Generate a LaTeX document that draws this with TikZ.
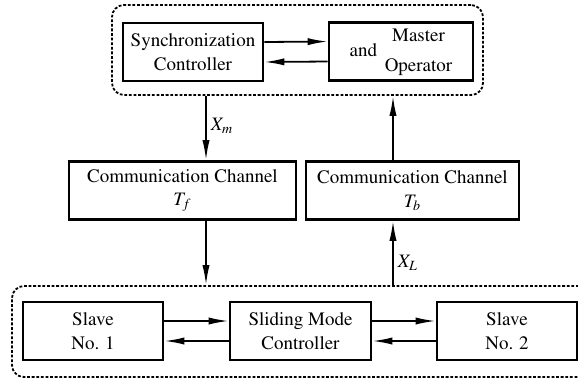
\documentclass[tikz,border=0pt]{standalone}
\usepackage[T1]{fontenc}
\usepackage{mathptmx}
\usetikzlibrary{arrows.meta}
\begin{document}
\begin{tikzpicture}[
                x=0.5pt, y=-0.5pt,
                font=\fontsize{9.5pt}{11.8pt}\selectfont,
                syncBlock/.style={draw=black,line width=1.3pt,align=center,
                                  inner sep=1pt,minimum height=29pt},
                syncGroup/.style={draw=black,line width=0.9pt,
                                  dash pattern=on 1.4pt off 0.9pt,
                                  rounded corners=6pt,inner sep=0pt},
                syncLink/.style={draw=black,line width=0.9pt,
                                 -{Latex[length=10pt,width=3.6pt]}}]
                \useasboundingbox (0,0) rectangle (578,381);
                % dashed groups
                \node[syncGroup,minimum width=185.5pt,minimum height=45pt]
                    (masterSide) at (297.5,50) {};
                \node[syncGroup,minimum width=294pt,minimum height=45.5pt]
                    (slaveSide) at (306,331.5) {};
                % blocks
                \node[syncBlock,minimum width=70pt] (sync) at (193,52)
                    {Synchronization\\Controller};
                \node[syncBlock,minimum width=72pt] (master) at (401,51.5)
                    {and\hspace{0.4em}\begin{tabular}{@{}c@{}}Master\\[3pt]Operator\end{tabular}};
                \node[syncBlock,minimum width=113.5pt] (chanF) at (182.5,190.5)
                    {Communication Channel\\$T_f$};
                \node[syncBlock,minimum width=106.5pt] (chanB) at (412.5,190.5)
                    {Communication Channel\\$T_b$};
                \node[syncBlock,minimum width=70pt] (slaveOne) at (93,331)
                    {Slave\\No. 1};
                \node[syncBlock,minimum width=70.5pt] (slide) at (300.5,331)
                    {Sliding Mode\\Controller};
                \node[syncBlock,minimum width=70pt] (slaveTwo) at (507,331)
                    {Slave\\No. 2};
                % links
                \foreach \a/\b in {sync/master,slaveOne/slide,slide/slaveTwo}{
                    \draw[syncLink] ([yshift=5pt]\a.east) -- ([yshift=5pt]\b.west);
                    \draw[syncLink] ([yshift=-5pt]\b.west) -- ([yshift=-5pt]\a.east);
                }
                \coordinate (fwdX) at (206,0);
                \coordinate (bckX) at (393,0);
                \draw[syncLink] (masterSide.south -| fwdX) -- (chanF.north -| fwdX)
                    node[pos=0.47,anchor=west,inner sep=2pt] (xm) {$X_m$};
                \draw[syncLink] (chanF.south -| fwdX) -- (slaveSide.north -| fwdX);
                \draw[syncLink] (slaveSide.north -| bckX) -- (chanB.south -| bckX)
                    node[pos=0.35,anchor=west,inner sep=2pt] (xl) {$X_L$};
                \draw[syncLink] (chanB.north -| bckX) -- (masterSide.south -| bckX);
            \end{tikzpicture}
\end{document}
